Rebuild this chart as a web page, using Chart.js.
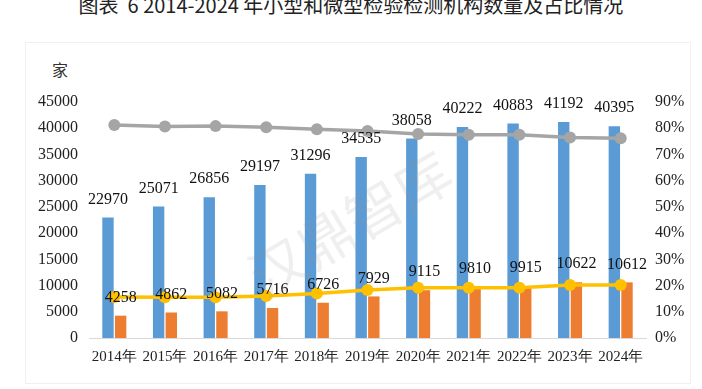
<!DOCTYPE html>
<html>
<head>
<meta charset="utf-8">
<script src="https://cdn.jsdelivr.net/npm/chart.js@4.4.1/dist/chart.umd.min.js"></script>
<style>
  body { margin: 0; background: #fff; }
  #wrap { position: relative; width: 702px; height: 389px; overflow: hidden; }
  #title { position: absolute; left: 0; top: -5px; width: 702px; text-align: center;
    font: 20px/20px "Noto Sans CJK SC", sans-serif; color: #222; white-space: nowrap; }
  #unit { position: absolute; left: 52px; top: 61px; font: 16px/20px 'Liberation Serif', 'Noto Sans CJK SC', serif; color: #333; }
  #frame { position: absolute; left: 25px; top: 42px; width: 664px; height: 340px; border: 1px solid #f0f0f0; }
  canvas { position: absolute; left: 0; top: 0; }
</style>
</head>
<body>
<div id="wrap">
  <div id="frame"></div>
  <div id="title">图表&nbsp; 6 2014-2024 年小型和微型检验检测机构数量及占比情况</div>
  <div id="unit">家</div>
  <canvas id="myCanvas" width="702" height="389"></canvas>
</div>
<script>
var years = ['2014年', '2015年', '2016年', '2017年', '2018年', '2019年', '2020年', '2021年', '2022年', '2023年', '2024年'];
var smallMicro = [22970, 25071, 26856, 29197, 31296, 34535, 38058, 40222, 40883, 41192, 40395];
var otherCount = [4258, 4862, 5082, 5716, 6726, 7929, 9115, 9810, 9915, 10622, 10612];
var smallShare = [81.2, 80.7, 80.8, 80.4, 79.6, 78.9, 77.8, 77.5, 77.5, 76.5, 76.2];
var otherShare = [15.6, 15.5, 15.5, 16.0, 17.0, 18.3, 19.2, 19.2, 19.2, 20.2, 20.2];

var serif = "'Liberation Serif', serif";
Chart.defaults.font.family = serif;

// value labels above the two bar series
var barLabels = {
  id: 'barLabels',
  afterDatasetsDraw: function (chart) {
    var ctx = chart.ctx;
    ctx.save();
    ctx.font = "16px 'Liberation Serif', serif";
    ctx.fillStyle = '#111';
    ctx.textAlign = 'center';
    ctx.textBaseline = 'middle';
    [0, 1].forEach(function (di) {
      var meta = chart.getDatasetMeta(di);
      meta.data.forEach(function (bar, i) {
        ctx.fillText(String(chart.data.datasets[di].data[i]), bar.x, bar.y - 18);
      });
    });
    ctx.restore();
  }
};

// faint watermark
var watermark = {
  id: 'watermark',
  afterDraw: function (chart) {
    var ctx = chart.ctx;
    ctx.save();
    ctx.translate(350, 224);
    ctx.rotate(-31 * Math.PI / 180);
    ctx.font = '56px "Noto Sans CJK SC", sans-serif';
    ctx.fillStyle = 'rgba(150,150,150,0.15)';
    ctx.textAlign = 'center';
    ctx.textBaseline = 'middle';
    ctx.fillText('汉鼎智库', 0, 0);
    ctx.restore();
  }
};

var chartdata = {
  labels: years,
  datasets: [
    {
      type: 'bar',
      label: '小型和微型',
      backgroundColor: '#5b9bd5',
      data: smallMicro,
      yAxisID: 'y',
      order: 2,
      barPercentage: 0.9,
      categoryPercentage: 0.5
    },
    {
      type: 'bar',
      label: '其他',
      backgroundColor: '#ed7d31',
      data: otherCount,
      yAxisID: 'y',
      order: 2,
      barPercentage: 0.9,
      categoryPercentage: 0.5
    },
    {
      type: 'line',
      label: '小微占比',
      borderColor: '#a5a5a5',
      backgroundColor: '#a5a5a5',
      borderWidth: 3.5,
      pointRadius: 6,
      pointBorderWidth: 0,
      data: smallShare,
      yAxisID: 'y1',
      order: 1
    },
    {
      type: 'line',
      label: '其他占比',
      borderColor: '#ffc000',
      backgroundColor: '#ffc000',
      borderWidth: 3.5,
      pointRadius: 6,
      pointBorderWidth: 0,
      data: otherShare,
      yAxisID: 'y1',
      order: 1
    }
  ]
};

var ctx = document.getElementById('myCanvas');
var chart = new Chart(ctx, {
  data: chartdata,
  plugins: [barLabels, watermark],
  options: {
    responsive: false,
    animation: false,
    devicePixelRatio: 1,
    layout: { padding: { top: 102, left: 0, right: 0, bottom: 0 } },
    plugins: { legend: { display: false }, tooltip: { enabled: false } },
    scales: {
      x: {
        offset: true,
        grid: { display: false, drawTicks: false },
        border: { display: true, color: '#d9d9d9', width: 1 },
        ticks: { font: { family: serif, size: 15 }, color: '#222', padding: 10, maxRotation: 0, autoSkip: false },
        afterFit: function (s) { s.height = 51; }
      },
      y: {
        position: 'left',
        min: 0, max: 45000,
        grid: { display: false, drawTicks: false },
        border: { display: false },
        ticks: { stepSize: 5000, font: { family: serif, size: 16 }, color: '#222', padding: 11,
          callback: function (v) { return String(v); } },
        afterFit: function (s) { s.width = 89; }
      },
      y1: {
        position: 'right',
        min: 0, max: 90,
        grid: { display: false, drawTicks: false },
        border: { display: false },
        ticks: { stepSize: 10, font: { family: serif, size: 16 }, color: '#222', padding: 9,
          callback: function (v) { return v + '%'; } },
        afterFit: function (s) { s.width = 56; }
      }
    }
  }
});
</script>
</body>
</html>
